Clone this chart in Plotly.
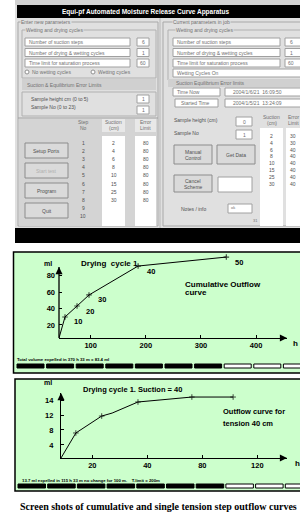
import plotly.graph_objects as go

W, H = 300, 512

# ---------------- data ----------------
# Chart 1: cumulative outflow (hours vs ml), labelled by suction (cm)
cum_hours = [42.6, 53.5, 75.3, 97.0, 186.0, 346.0]
cum_ml = [4.2, 29.7, 43.0, 56.4, 91.5, 102.4]
cum_suction = ["", "10", "20", "30", "40", "50"]
cum_marker = [0, 4, 4, 4, 4, 4]
cum_xticks = [100, 200, 300, 400]
cum_yticks = [20, 40, 60, 80]

# Chart 2: single tension step outflow (positions in tick-index units of a schematic axis)
step_x = [0.43, 0.70, 1.17, 1.36, 1.83, 2.81, 3.56]
step_y = [0.13, 1.80, 2.93, 3.13, 3.87, 4.20, 4.20]
step_marker = [0, 4, 4, 0, 4, 4, 4]
step_xtick_labels = ["20", "40", "80", "120"]
step_ytick_labels = ["4", "8", "12", "14"]

progress_done = 7
progress_total = 10

# screenshot panel contents
left_rows = ["Number of suction steps", "Number of drying & wetting cycles", "Time limit for saturation process"]
left_vals = ["6", "1", "60"]
step_nos = [str(i) for i in range(1, 11)]
suctions = ["2", "4", "6", "8", "10", "15", "25", "30"]
limits = ["80", "80", "80", "80", "80", "80", "80", "80"]
right_limits = ["30", "30", "40", "40", "40", "40", "40", "40"]

GREEN = "#ccffcc"
UIBG = "#e0e0e0"
UITXT = "#707070"

shapes = []
annots = []


def px(x):
    return x / W


def py(y):
    return 1 - y / H


def rect(x0, y0, x1, y1, fill=None, line=None, lw=1, layer="below"):
    shapes.append(dict(type="rect", xref="paper", yref="paper",
                       x0=px(x0), x1=px(x1), y0=py(y1), y1=py(y0),
                       fillcolor=fill if fill else "rgba(0,0,0,0)",
                       line=dict(color=line if line else "rgba(0,0,0,0)", width=lw if line else 0),
                       layer=layer))


def hline(x0, x1, y, color="#a0a0a0", lw=1):
    shapes.append(dict(type="line", xref="paper", yref="paper", x0=px(x0), x1=px(x1),
                       y0=py(y), y1=py(y), line=dict(color=color, width=lw), layer="below"))


def vline(x, y0, y1, color="#a0a0a0", lw=1):
    shapes.append(dict(type="line", xref="paper", yref="paper", x0=px(x), x1=px(x),
                       y0=py(y0), y1=py(y1), line=dict(color=color, width=lw), layer="below"))


def txt(x, y, s, size=5, color=UITXT, anchor="left", bold=False, family="Liberation Sans", bg=None):
    d = dict(x=px(x), y=py(y), xref="paper", yref="paper", text=s, showarrow=False,
             xanchor=anchor, yanchor="middle",
             font=dict(size=size, color=color, family=family, weight="bold" if bold else "normal"))
    if bg:
        d["bgcolor"] = bg
    d["borderpad"] = 0
    annots.append(d)


# ---------------- screenshot of the application ----------------
rect(15, 0, 300, 229, fill=UIBG)
rect(15, 0, 300, 5, fill="#d2d2d2")
rect(17, 5, 300, 18, fill="black")
txt(145, 11.5, "Equi-pf Automated Moisture Release Curve Apparatus", size=6.5, color="white",
    anchor="center", bold=True)
rect(15, 228, 300, 243, fill="black")

# left group
rect(18, 22, 158, 226, line="#a8a8a8")
txt(20, 22, "Enter new parameters", bg=UIBG)
rect(22, 30, 156, 78, line="#b0b0b0")
txt(25, 29.5, "Wetting and drying cycles", bg=UIBG)
for i, (lab, val) in enumerate(zip(left_rows, left_vals)):
    y0 = 38 + i * 10.5
    rect(25, y0, 130, y0 + 8, fill="white", line="#a0a0a0")
    txt(28, y0 + 4, lab)
    rect(137, y0, 149, y0 + 8, fill="white", line="#a0a0a0")
    txt(143, y0 + 4, val, anchor="center")
shapes.append(dict(type="circle", xref="paper", yref="paper", x0=px(25), x1=px(29), y0=py(74), y1=py(70),
                   line=dict(color="#909090", width=1), fillcolor="white", layer="below"))
txt(31, 72, "No wetting cycles")
shapes.append(dict(type="circle", xref="paper", yref="paper", x0=px(91), x1=px(95), y0=py(74), y1=py(70),
                   line=dict(color="#909090", width=1), fillcolor="white", layer="below"))
txt(97, 72, "Wetting cycles")
rect(22, 79, 156, 90, fill="#d0d0d0")
txt(26, 84.5, "Suction & Equilibrium Error Limits")
rect(22, 92, 156, 116, line="#b0b0b0")
txt(30, 99, "Sample height cm (0 to 5)", color="#505050")
rect(137, 95, 149, 103, fill="white", line="#a0a0a0")
txt(143, 99, "1", anchor="center")
txt(30, 107, "Sample No (0 to 23)", color="#505050")
rect(137, 106, 149, 114, fill="white", line="#a0a0a0")
txt(143, 110, "1", anchor="center")
hline(18, 158, 118)
rect(19, 119, 157, 226, fill="#d4d4d4")
txt(83, 122, "Step", anchor="center")
txt(83, 128, "No", anchor="center")
rect(102, 119, 125, 132, fill="#e8e8e8")
txt(113.5, 122, "Suction", anchor="center")
txt(113.5, 128, "(cm)", anchor="center")
rect(135, 119, 156, 132, fill="#e8e8e8")
txt(145.5, 122, "Error", anchor="center")
txt(145.5, 128, "Limit", anchor="center")
rect(102, 136, 125, 226, fill="white")
rect(135, 136, 156, 226, fill="white")
for i, s in enumerate(step_nos):
    txt(83, 143 + i * 8.1, s, anchor="center", color="#505050")
for i, (s, l) in enumerate(zip(suctions, limits)):
    txt(113.5, 143 + i * 8.1, s, anchor="center", color="#505050")
    txt(145.5, 143 + i * 8.1, l, anchor="center", color="#505050")
for i, lab in enumerate(["Setup Ports", "Start test", "Program", "Quit"]):
    y0 = 143 + i * 20
    rect(25, y0, 68, y0 + 15, fill="#dadada", line="#8c8c8c")
    txt(46.5, y0 + 7.5, lab, anchor="center", color="#b0b0b0" if i == 1 else "#505050")

# right group
vline(160, 18, 228, color="#b8b8b8")
rect(163, 22, 302, 226, line="#a8a8a8")
txt(172, 22, "Current parameters in job", bg=UIBG)
rect(168, 30, 302, 80, line="#b0b0b0")
txt(175, 29.5, "Wetting and drying cycles", bg=UIBG)
for i, (lab, val) in enumerate(zip(left_rows, left_vals)):
    y0 = 38 + i * 10.5
    rect(173, y0, 280, y0 + 8, fill="white", line="#a0a0a0")
    txt(176, y0 + 4, lab)
    rect(285, y0, 302, y0 + 8, fill="white", line="#a0a0a0")
    txt(291, y0 + 4, val, anchor="center")
rect(173, 69, 302, 77, fill="white", line="#a0a0a0")
txt(176, 73, "Wetting Cycles On")
rect(168, 79, 302, 87, fill="#d0d0d0")
txt(175, 83, "Suction Equilibrium Error limits")
rect(173, 88, 220, 96, fill="white", line="#a0a0a0")
txt(176, 92, "Time Now")
rect(225, 88, 302, 96, fill="white", line="#a0a0a0")
txt(232, 92, "2004/1/6/21  16:09:50")
rect(175, 99, 218, 107, fill="white", line="#a0a0a0")
txt(180, 103, "Started Time")
rect(225, 99, 302, 107, fill="white", line="#a0a0a0")
txt(232, 103, "2004/1/5/21  13:24:09")
txt(173, 120, "Sample height (cm)", color="#505050")
rect(236, 117, 252, 126, fill="white", line="#a0a0a0")
txt(244, 121.5, "0", anchor="center")
txt(173, 133, "Sample No", color="#505050")
rect(236, 130, 252, 139, fill="white", line="#a0a0a0")
txt(244, 134.5, "1", anchor="center")
txt(271.5, 117, "Suction", anchor="center")
txt(271.5, 123, "(cm)", anchor="center")
txt(293, 117, "Error", anchor="center")
txt(293, 123, "Limit", anchor="center")
rect(260, 128, 283, 226, fill="white")
rect(286, 128, 302, 226, fill="white")
for i, (s, l) in enumerate(zip(suctions, right_limits)):
    txt(271.5, 136 + i * 6.8, s, anchor="center", color="#505050")
    txt(293, 136 + i * 6.8, l, anchor="center", color="#505050")
rect(174, 145, 212, 164, fill="#dadada", line="#8c8c8c")
txt(193, 151.5, "Manual", anchor="center", color="#505050")
txt(193, 158, "Control", anchor="center", color="#505050")
rect(217, 145, 255, 164, fill="#dadada", line="#8c8c8c")
txt(236, 154.5, "Get Data", anchor="center", color="#505050")
rect(174, 175, 212, 192, fill="#dadada", line="#8c8c8c")
txt(193, 180.5, "Cancel", anchor="center", color="#505050")
txt(193, 187, "Scheme", anchor="center", color="#505050")
rect(218, 177, 252, 192, fill="white", line="#a0a0a0")
txt(180, 209, "Notes / info", color="#505050")
rect(228, 204, 252, 213, fill="white", line="#a0a0a0")
txt(230, 207, "ok", size=4)
txt(255, 220, "31", size=4, anchor="center")

# ---------------- chart boxes ----------------
rect(13.5, 252, 302, 373, fill=GREEN, line="black", lw=1.5)
rect(15, 379, 302, 491, fill=GREEN, line="black", lw=1.5)


def progress(x_start, y0, y1, pitch, width):
    for i in range(progress_total):
        x0 = x_start + i * pitch
        if i < progress_done:
            rect(x0, y0, x0 + width, y1, fill="black", line="black", lw=1, layer="above")
        else:
            rect(x0, y0, x0 + width, y1, fill="white", line="black", lw=1, layer="above")


progress(17, 364, 368, 29.6, 27)
progress(18, 484, 488, 29.7, 27.5)

txt(16, 359.5, "Total volume expelled in 370 h 33 m = 83.4 ml", size=4.3, color="black", bold=True)
txt(21, 480, "13.7 ml expelled in 115 h 33 m no change for 100 m.    T.limit = 200m", size=4.3,
    color="black", bold=True)

# chart 1 texts
txt(48, 263, "ml", size=7, color="black", bold=True, anchor="center")
txt(80, 263, "Drying&nbsp;&nbsp;cycle 1", size=8, color="black", bold=True)
txt(184, 284, "Cumulative Outflow", size=8, color="black", bold=True)
txt(184, 292.5, "curve", size=8, color="black", bold=True)
txt(295, 343, "h", size=8, color="black", bold=True, anchor="center")

# chart 2 texts
txt(48, 382, "ml", size=7, color="black", bold=True, anchor="center")
txt(82, 389, "Drying cycle 1. Suction = 40", size=7.5, color="black", bold=True)
txt(222, 411.5, "Outflow curve for", size=7.5, color="black", bold=True)
txt(222, 423, "tension 40 cm", size=7.5, color="black", bold=True)
txt(297, 463, "h", size=8, color="black", bold=True, anchor="center")

# caption
txt(19, 506.5, "Screen shots of cumulative and single tension step outflow curves", size=10,
    color="black", bold=True, family="Liberation Serif")

# ---------------- traces ----------------
fig = go.Figure()
fig.add_trace(go.Scatter(
    x=cum_hours, y=cum_ml, mode="lines+markers", xaxis="x", yaxis="y",
    line=dict(color="black", width=1),
    marker=dict(symbol="cross-thin", size=cum_marker, color="black", line=dict(width=1.2, color="black")),
    cliponaxis=False, showlegend=False, hoverinfo="skip"))
fig.add_trace(go.Scatter(
    x=step_x, y=step_y, mode="lines+markers", xaxis="x2", yaxis="y2",
    line=dict(color="black", width=1),
    marker=dict(symbol="cross-thin", size=step_marker, color="black", line=dict(width=1, color="black")),
    cliponaxis=False, showlegend=False, hoverinfo="skip"))

# suction labels at chart-1 points
for h, m, s in zip(cum_hours, cum_ml, cum_suction):
    if s:
        annots.append(dict(x=h, y=m, xref="x", yref="y", text=s, showarrow=False,
                           xanchor="left", yanchor="middle", xshift=7, yshift=-5,
                           font=dict(size=7.5, color="black", family="Liberation Sans", weight="bold")))

X1 = [42.6, 456]
Y1 = [4.2, 106.1]
Y1_AXIS_TOP = 90.3
X2 = [0.43, 4.54]
Y2 = [0.13, 4.47]

# y axis line of chart 1 (shorter than the plotting area, which holds the last point)
shapes.append(dict(type="line", xref="paper", yref="y", x0=px(59), x1=px(59), y0=Y1[0], y1=Y1_AXIS_TOP,
                   line=dict(color="black", width=1.3), layer="above"))

# axis arrows
for xr, yr, xx, yy, ytop in [("x", "y", X1, Y1, Y1_AXIS_TOP), ("x2", "y2", X2, Y2, Y2[1])]:
    annots.append(dict(x=xx[1], y=yy[0], xref=xr, yref=yr, ax=-8, ay=0, text="", showarrow=True,
                       arrowhead=2, arrowsize=1.1, arrowwidth=1.3, arrowcolor="black"))
    annots.append(dict(x=xx[0], y=ytop, xref=xr, yref=yr, ax=0, ay=8, text="", showarrow=True,
                       arrowhead=2, arrowsize=1.1, arrowwidth=1.3, arrowcolor="black"))

tickfont = dict(size=7.5, color="black", family="Liberation Sans", weight="bold")
axis_common = dict(linecolor="black", linewidth=1.3, ticks="inside", ticklen=3,
                   tickcolor="black", tickwidth=1, showgrid=False, zeroline=False, tickfont=tickfont,
                   fixedrange=True)

fig.update_layout(
    width=W, height=H, margin=dict(l=0, r=0, t=0, b=0),
    paper_bgcolor="white", plot_bgcolor="rgba(0,0,0,0)",
    xaxis=dict(domain=[px(59), px(287)], range=X1, anchor="y", tickvals=cum_xticks, showline=True,
               **axis_common),
    yaxis=dict(domain=[py(338), py(254)], range=Y1, anchor="x", tickvals=cum_yticks, showline=False,
               ticklabelstandoff=3, **axis_common),
    xaxis2=dict(domain=[px(61), px(287)], range=X2, anchor="y2", tickvals=[1, 2, 3, 4],
                ticktext=step_xtick_labels, showline=True, **axis_common),
    yaxis2=dict(domain=[py(458), py(393)], range=Y2, anchor="x2", tickvals=[1, 2, 3, 4],
                ticktext=step_ytick_labels, ticklabelstandoff=5, showline=True, **axis_common),
    shapes=shapes, annotations=annots,
)

fig.write_html("out.html", config={"displayModeBar": False},
               post_script="document.body.style.margin='0';document.body.style.overflow='hidden';")
